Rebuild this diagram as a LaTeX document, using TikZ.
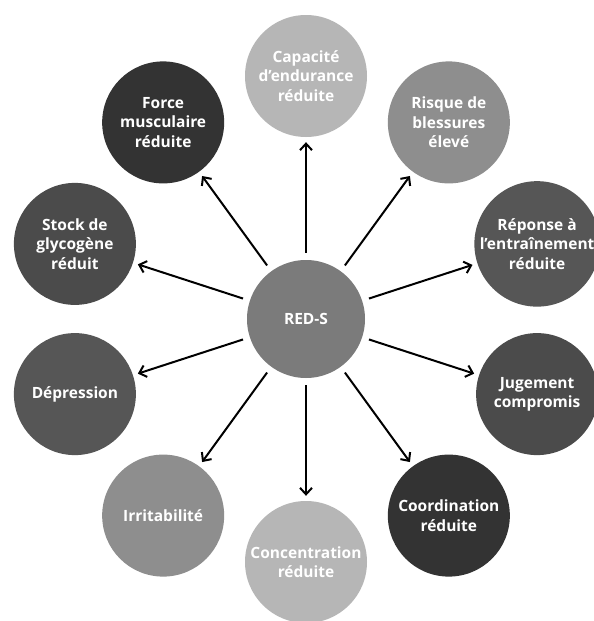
\documentclass[tikz,border=0pt]{standalone}
\usepackage{fontspec}
\setmainfont{Open Sans}
\usetikzlibrary{arrows.meta}
\definecolor{cLight}{HTML}{B6B6B6}
\definecolor{cMid}{HTML}{8E8E8E}
\definecolor{cCenter}{HTML}{7B7B7B}
\definecolor{cDark}{HTML}{565656}
\definecolor{cDarker}{HTML}{4B4B4B}
\definecolor{cDarkest}{HTML}{333333}
\tikzset{
  bubble/.style={circle, inner sep=0pt, minimum size=122pt, text=white, align=center,
    font=\bfseries\fontsize{15.5}{19.5}\selectfont},
  hub/.style={bubble, minimum size=118pt},
  arr/.style={line width=2pt, shorten <=7pt, shorten >=5pt,
    -{Straight Barb[length=6.5pt,width=12pt,line width=2pt]}}
}
\begin{document}
\begin{tikzpicture}[x=1pt,y=1pt]
\useasboundingbox[fill=white] (0,0) rectangle (594,-621);
\coordinate (C) at (306,-319);
\node[hub, fill=cCenter] (red) at (C) {RED-S};
\node[bubble, fill=cLight]   (cap)  at ([shift={(90:243)}]C)  {Capacité\\d’endurance\\réduite};
\node[bubble, fill=cMid]     (ris)  at ([shift={(54:243)}]C)  {Risque de\\blessures\\élevé};
\node[bubble, fill=cDark]    (rep)  at ([shift={(18:243)}]C)  {Réponse à\\l’entraînement\\réduite};
\node[bubble, fill=cDarker]  (jug)  at ([shift={(-18:243)}]C) {Jugement\\compromis};
\node[bubble, fill=cDarkest] (coo)  at ([shift={(-54:243)}]C) {Coordination\\réduite};
\node[bubble, fill=cLight]   (con)  at ([shift={(-90:243)}]C) {Concentration\\réduite};
\node[bubble, fill=cMid]     (irr)  at ([shift={(-126:243)}]C) {Irritabilité};
\node[bubble, fill=cDark]    (dep)  at ([shift={(-162:243)}]C) {Dépression};
\node[bubble, fill=cDarker]  (sto)  at ([shift={(162:243)}]C) {Stock de\\glycogène\\réduit};
\node[bubble, fill=cDarkest] (for)  at ([shift={(126:243)}]C) {Force\\musculaire\\réduite};
\foreach \n in {cap,ris,rep,jug,coo,con,irr,dep,sto,for}
  \draw[arr] (red) -- (\n);
\end{tikzpicture}
\end{document}
